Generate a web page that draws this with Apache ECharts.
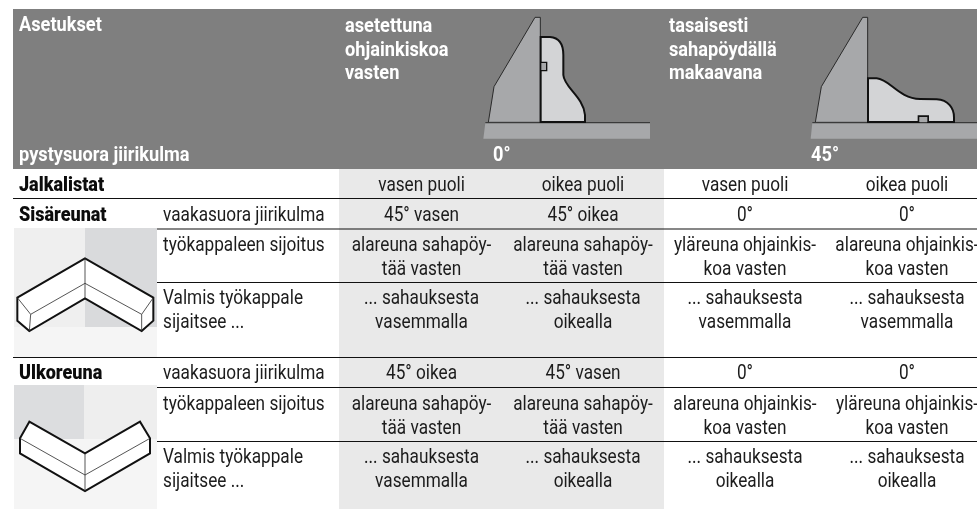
<!DOCTYPE html>
<html><head><meta charset="utf-8">
<style>html,body{margin:0;padding:0;background:#fff}#c{width:977px;height:510px}</style>
<script src="https://cdn.jsdelivr.net/npm/echarts@6/dist/echarts.min.js"></script>
</head><body><div id="c"></div>
<script>
const headerTitle = "Asetukset";
const headerAngleLabel = "pystysuora jiirikulma";
const headerGroups = [["asetettuna","ohjainkiskoa","vasten"],["tasaisesti","sahapöydällä","makaavana"]];
const headerAngles = ["0°","45°"];
const sideLabels = ["vasen puoli","oikea puoli","vasen puoli","oikea puoli"];
const sectionTitles = ["Jalkalistat","Sisäreunat","Ulkoreuna"];
const rowLabels = [["vaakasuora jiirikulma"],["työkappaleen sijoitus"],["Valmis työkappale","sijaitsee ..."]];
const innerAngles = ["45° vasen","45° oikea","0°","0°"];
const innerPlacement = [["alareuna sahapöy-","tää vasten"],["alareuna sahapöy-","tää vasten"],["yläreuna ohjainkis-","koa vasten"],["alareuna ohjainkis-","koa vasten"]];
const innerResult = [["... sahauksesta","vasemmalla"],["... sahauksesta","oikealla"],["... sahauksesta","vasemmalla"],["... sahauksesta","vasemmalla"]];
const outerAngles = ["45° oikea","45° vasen","0°","0°"];
const outerPlacement = [["alareuna sahapöy-","tää vasten"],["alareuna sahapöy-","tää vasten"],["alareuna ohjainkis-","koa vasten"],["yläreuna ohjainkis-","koa vasten"]];
const outerResult = [["... sahauksesta","vasemmalla"],["... sahauksesta","oikealla"],["... sahauksesta","oikealla"],["... sahauksesta","oikealla"]];

const LH = 23.5, INK = '#1c1c1c';
const colX = [421.5, 583, 745, 907];
const STY = {
  body:{fs:20,sx:0.86,w:400,fill:INK},
  head:{fs:20,sx:0.91,w:700,fill:'#ffffff'},
  title:{fs:20,sx:0.9,w:900,fill:'#0c0c0c'}
};
const els = [];
const rect = (x,y,w,h,fill) => els.push({type:'rect',silent:true,shape:{x,y,width:w,height:h},style:{fill}});
const line = (x1,x2,y) => els.push({type:'rect',silent:true,shape:{x:x1,y:y,width:x2-x1,height:1},style:{fill:'#111'}});
const txt = (s,x,base,kind,align) => { const k=STY[kind];
  els.push({type:'text',silent:true,x:x,y:base+Math.round(k.fs*0.24),scaleX:k.sx,
  style:{text:s,x:0,y:0,fill:k.fill,font:k.w+' '+k.fs+'px Roboto',align:align||'left',verticalAlign:'bottom'}}); };

rect(13,9,964,160,'#7f7f7f');
rect(339,169,325,340,'#e9e9e9');
rect(14,228,71,99,'#efefef'); rect(85,228,72,99,'#d9dadc'); rect(14,327,143,30,'#f5f5f5');
rect(14,385,70,54,'#dcdddf'); rect(84,385,73,54,'#eeeeee'); rect(14,439,143,70,'#f5f5f5');

const paths = [];
function addPath(d,ox,oy,fill,stroke,lw){
  paths.push({type:'group',x:ox,y:oy,scaleX:1/3,scaleY:1/3,silent:true,children:[
    {type:'path',silent:true,shape:{pathData:d},style:{fill:fill||'none',stroke:stroke||'none',lineWidth:lw||0}}]});
}
addPath('M645 52 L661 52 L661 367 L505 367 L522 260 Z',320,0,'#a7a8aa','#2a2a2a',3);
addPath('M496 368 L990 368 L990 416 L490 416 Z',320,0,'#a7a8aa','none',0);
addPath('M496 368 L990 368',320,0,'none','#3a3a3a',4);
addPath('M662 111 L690 111 C718 113 730 135 730 165 L730 225 C732 262 790 290 795 345 L795 366 L662 366 Z',320,0,'#d3d4d6','#111',6);
addPath('M662 187 L680 187 L680 212 L662 212 Z',320,0,'#a7a8aa','#111',4);
addPath('M638 52 L653 52 L653 367 L496 367 L514 260 Z',650,0,'#a7a8aa','#2a2a2a',3);
addPath('M487 368 L981 368 L981 416 L482 416 Z',650,0,'#a7a8aa','none',0);
addPath('M487 368 L981 368',650,0,'none','#3a3a3a',4);
addPath('M654 235 L680 235 C720 238 745 295 810 297 L860 298 C895 300 912 325 912 352 L912 366 L834 366 L834 349 L806 349 L806 366 L654 366 Z',650,0,'#d3d4d6','#111',6);
addPath('M808 351 L832 351 L832 366 L808 366 Z',650,0,'#a7a8aa','none',0);
addPath('M255 190 L52 308 L52 377 L88 408 L255 310 L425 408 L460 377 L460 308 Z',0,195,'#fff','#111',6);
addPath('M52 308 L92 358 L255 265 L425 358 L460 308 M92 358 L88 408 M425 358 L425 408 M255 190 L255 310',0,195,'none','#333',2.5);
addPath('M88 215 L60 265 L60 310 L255 423 L450 310 L450 265 L420 215 L255 310 Z',0,350,'#fff','#111',6);
addPath('M60 265 L255 375 L450 265 M255 310 L255 423',0,350,'none','#333',2.5);

[[13,977,198],[157,977,228.5],[157,977,282],[13,977,357],[157,977,387],[157,977,441]].forEach(l=>line(l[0],l[1],l[2]));

txt(headerTitle,19,31,'head');
txt(headerAngleLabel,19,161,'head');
[345,669].forEach((x,i)=>headerGroups[i].forEach((s,j)=>txt(s,x,32+j*LH,'head')));
txt(headerAngles[0],493,161,'head');
txt(headerAngles[1],811,161,'head');

txt(sectionTitles[0],19,190.5,'title');
sideLabels.forEach((s,i)=>txt(s,colX[i],190.5,'body','center'));
const blocks = [
  {title:sectionTitles[1],base:[221,251,304],vals:[innerAngles,innerPlacement,innerResult]},
  {title:sectionTitles[2],base:[379,410,463],vals:[outerAngles,outerPlacement,outerResult]}
];
blocks.forEach(b=>{
  txt(b.title,19,b.base[0],'title');
  rowLabels.forEach((r,k)=>r.forEach((s,j)=>txt(s,163,b.base[k]+j*LH,'body')));
  b.vals[0].forEach((s,i)=>txt(s,colX[i],b.base[0],'body','center'));
  [1,2].forEach(k=>b.vals[k].forEach((cell,i)=>cell.forEach((s,j)=>txt(s,colX[i],b.base[k]+j*LH,'body','center'))));
});

const chart = echarts.init(document.getElementById('c'),null,{renderer:'canvas'});
chart.setOption({animation:false,backgroundColor:'#fff',graphic:{elements:els},
  series:[{type:'custom',coordinateSystem:'none',silent:true,z:5,data:[[0]],
    renderItem:()=>({type:'group',children:paths})}]});
</script></body></html>
